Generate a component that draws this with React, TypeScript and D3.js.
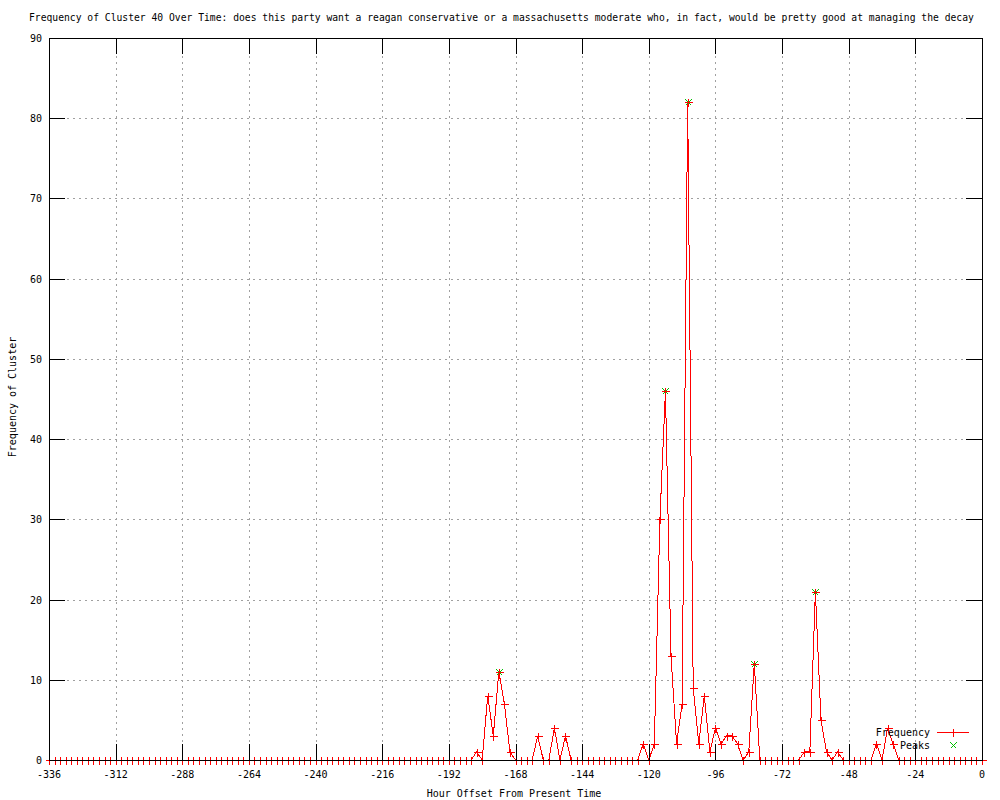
import React from 'react';
import * as d3 from 'd3';

// hour offsets, one reading every 2 hours from -336 to 0
const hours = d3.range(-336, 1, 2);

// frequency per 2-hour slot (12 slots = 24 hours per row)
const frequency = [
  0, 0, 0, 0, 0, 0, 0, 0, 0, 0, 0, 0,
  0, 0, 0, 0, 0, 0, 0, 0, 0, 0, 0, 0,
  0, 0, 0, 0, 0, 0, 0, 0, 0, 0, 0, 0,
  0, 0, 0, 0, 0, 0, 0, 0, 0, 0, 0, 0,
  0, 0, 0, 0, 0, 0, 0, 0, 0, 0, 0, 0,
  0, 0, 0, 0, 0, 0, 0, 0, 0, 0, 0, 0,
  0, 0, 0, 0, 0, 1, 0, 8, 3, 11, 7, 1,
  0, 0, 0, 0, 3, 0, 0, 4, 0, 3, 0, 0,
  0, 0, 0, 0, 0, 0, 0, 0, 0, 0, 0, 2,
  0, 2, 30, 46, 13, 2, 7, 82, 9, 2, 8, 1,
  4, 2, 3, 3, 2, 0, 1, 12, 0, 0, 0, 0,
  0, 0, 0, 0, 1, 1, 21, 5, 1, 0, 1, 0,
  0, 0, 0, 0, 0, 2, 0, 4, 2, 0, 0, 0,
  0, 0, 0, 0, 0, 0, 0, 0, 0, 0, 0, 0,
  0,
];

const peakHours = [-174, -114, -106, -82, -60];
const peakValues = [11, 46, 82, 12, 21];

const xTicks = [-336, -312, -288, -264, -240, -216, -192, -168, -144, -120, -96, -72, -48, -24, 0];
const yTicks = [0, 10, 20, 30, 40, 50, 60, 70, 80, 90];

const title =
  'Frequency of Cluster 40 Over Time: does this party want a reagan conservative or a massachusetts moderate who, in fact, would be pretty good at managing the decay';

const W = 1000;
const H = 800;
const margin = { top: 38, right: 18, bottom: 40, left: 49 };
const font = "'DejaVu Sans Mono', monospace";
const red = '#ff0000';
const green = '#00c000';
const tickLen = 16;

const App = () => {
  const x = d3.scaleLinear().domain([-336, 0]).range([margin.left, W - margin.right]);
  const y = d3.scaleLinear().domain([0, 90]).range([H - margin.bottom, margin.top]);

  const pts = hours.map((h, i) => ({ h, v: frequency[i] }));
  const line = d3.line<{ h: number; v: number }>()
    .x(d => x(d.h))
    .y(d => y(d.v));

  const x0 = x(-336), x1 = x(0), y0 = y(0), y1 = y(90);

  const plus = (cx: number, cy: number, key: string | number, color: string, r = 4) => (
    <g key={key} stroke={color}>
      <line x1={cx - r} x2={cx + r} y1={cy} y2={cy} />
      <line x1={cx} x2={cx} y1={cy - r} y2={cy + r} />
    </g>
  );
  const cross = (cx: number, cy: number, key: string | number, color: string, r = 3) => (
    <g key={key} stroke={color}>
      <line x1={cx - r} x2={cx + r} y1={cy - r} y2={cy + r} />
      <line x1={cx - r} x2={cx + r} y1={cy + r} y2={cy - r} />
    </g>
  );

  return (
    <svg width={W} height={H} style={{ position: 'absolute', left: 0, top: 0, background: '#fff' }}>
      <rect width={W} height={H} fill="#fff" />
      {/* grid */}
      <g stroke="#a0a0a0" strokeDasharray="2,4" shapeRendering="crispEdges">
        {xTicks.slice(1, -1).map(t => (
          <line key={'gx' + t} x1={Math.round(x(t)) + 0.5} x2={Math.round(x(t)) + 0.5} y1={y1} y2={y0} />
        ))}
        {yTicks.slice(1, -1).map(t => (
          <line key={'gy' + t} x1={x0} x2={x1} y1={Math.round(y(t)) + 0.5} y2={Math.round(y(t)) + 0.5} />
        ))}
      </g>

      {/* data */}
      <path d={line(pts) ?? ''} fill="none" stroke={red} strokeWidth={1} shapeRendering="crispEdges" />
      <g shapeRendering="crispEdges">
        {peakHours.map((h, i) => cross(Math.round(x(h)) + 0.5, Math.round(y(peakValues[i])) + 0.5, 'pk' + i, green))}
        {pts.map((d, i) => plus(Math.round(x(d.h)) + 0.5, Math.round(y(d.v)) + 0.5, 'p' + i, red))}
      </g>

      {/* ticks and border */}
      <g stroke="#000" shapeRendering="crispEdges">
        {xTicks.map(t => {
          const px = Math.round(x(t)) + 0.5;
          return (
            <g key={'tx' + t}>
              <line x1={px} x2={px} y1={y0} y2={y0 - tickLen} />
              <line x1={px} x2={px} y1={y1} y2={y1 + tickLen} />
            </g>
          );
        })}
        {yTicks.map(t => {
          const py = Math.round(y(t)) + 0.5;
          return (
            <g key={'ty' + t}>
              <line x1={x0} x2={x0 + tickLen} y1={py} y2={py} />
              <line x1={x1} x2={x1 - tickLen} y1={py} y2={py} />
            </g>
          );
        })}
        <rect x={Math.round(x0) + 0.5} y={Math.round(y1) + 0.5} width={Math.round(x1) - Math.round(x0)} height={Math.round(y0) - Math.round(y1)} fill="none" />
      </g>

      {/* tick labels */}
      <g fontFamily={font} fontSize={10} fill="#000">
        {xTicks.map(t => (
          <text key={'lx' + t} x={x(t)} y={y0 + 18} textAnchor="middle">{String(t)}</text>
        ))}
        {yTicks.map(t => (
          <text key={'ly' + t} x={x0 - 7} y={y(t) + 4} textAnchor="end">{String(t)}</text>
        ))}
        <text x={29} y={21} fontSize={9.7}>{title}</text>
        <text x={514} y={797} textAnchor="middle">Hour Offset From Present Time</text>
        <text transform={`translate(16,${397}) rotate(-90)`} textAnchor="middle">Frequency of Cluster</text>
      </g>

      {/* legend */}
      <g fontFamily={font} fontSize={10} fill="#000" shapeRendering="crispEdges">
        <text x={930} y={736} textAnchor="end">Frequency</text>
        <line x1={937} x2={969} y1={732.5} y2={732.5} stroke={red} />
        {plus(953.5, 732.5, 'lg1', red)}
        <text x={930} y={749} textAnchor="end">Peaks</text>
        {cross(953.5, 745.5, 'lg2', green)}
      </g>
    </svg>
  );
};

export default App;
